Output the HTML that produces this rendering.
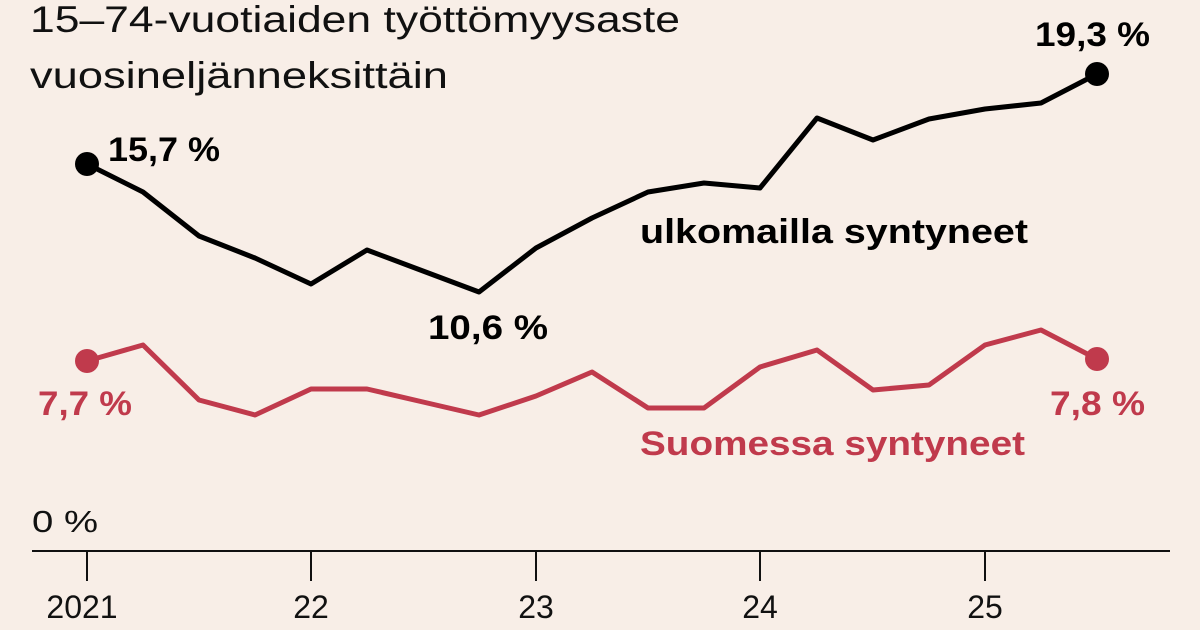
<!DOCTYPE html>
<html><head><meta charset="utf-8"><style>
html,body{margin:0;padding:0;background:#f8eee7;}
svg{display:block;font-family:"Liberation Sans",sans-serif;}
</style></head><body>
<svg width="1200" height="630" viewBox="0 0 1200 630">
<rect width="1200" height="630" fill="#f8eee7"/>
<text x="30" y="32" font-size="37" fill="#111" textLength="650" lengthAdjust="spacingAndGlyphs">15–74-vuotiaiden työttömyysaste</text>
<text x="30" y="88" font-size="37" fill="#111" textLength="418" lengthAdjust="spacingAndGlyphs">vuosineljänneksittäin</text>
<polyline fill="none" stroke="#000" stroke-width="5" stroke-linejoin="round" points="87,164 143,192 199,236 255,258 311,284 367,250 423,271 479,292 536,248 592,218 648,192 704,183 760,188 817,118 873,140 929,119 985,109 1041,103 1097,74"/>
<polyline fill="none" stroke="#c03a4c" stroke-width="5" stroke-linejoin="round" points="87,361 143,345 199,400 255,415 311,389 367,389 423,402 479,415 536,396 592,372 648,408 704,408 760,367 817,350 873,390 929,385 985,345 1041,330 1097,359"/>
<circle cx="87" cy="164" r="12" fill="#000"/>
<circle cx="1097" cy="74" r="12" fill="#000"/>
<circle cx="87" cy="361" r="12" fill="#c03a4c"/>
<circle cx="1097" cy="359" r="12" fill="#c03a4c"/>
<g font-weight="bold" font-size="34" lengthAdjust="spacingAndGlyphs">
<text x="108" y="161" fill="#000" textLength="112" lengthAdjust="spacingAndGlyphs">15,7 %</text>
<text x="1035" y="46" fill="#000" textLength="115" lengthAdjust="spacingAndGlyphs">19,3 %</text>
<text x="428" y="339" fill="#000" textLength="120" lengthAdjust="spacingAndGlyphs">10,6 %</text>
<text x="640" y="243" fill="#000" textLength="388" lengthAdjust="spacingAndGlyphs">ulkomailla syntyneet</text>
<text x="38" y="415" fill="#c03a4c" textLength="94" lengthAdjust="spacingAndGlyphs">7,7 %</text>
<text x="1050" y="415" fill="#c03a4c" textLength="95" lengthAdjust="spacingAndGlyphs">7,8 %</text>
<text x="640" y="455" fill="#c03a4c" textLength="385" lengthAdjust="spacingAndGlyphs">Suomessa syntyneet</text>
</g>
<text x="32" y="532" font-size="31" fill="#111" textLength="66" lengthAdjust="spacingAndGlyphs">0 %</text>
<line x1="32" y1="551" x2="1170" y2="551" stroke="#111" stroke-width="2"/>
<g stroke="#111" stroke-width="2">
<line x1="87" y1="551" x2="87" y2="581"/><line x1="311" y1="551" x2="311" y2="581"/><line x1="536" y1="551" x2="536" y2="581"/><line x1="760" y1="551" x2="760" y2="581"/><line x1="985" y1="551" x2="985" y2="581"/>
</g>
<g font-size="32" fill="#111" text-anchor="middle">
<text x="82" y="618">2021</text><text x="311" y="618">22</text><text x="536" y="618">23</text><text x="760" y="618">24</text><text x="985" y="618">25</text>
</g>
</svg>
</body></html>
